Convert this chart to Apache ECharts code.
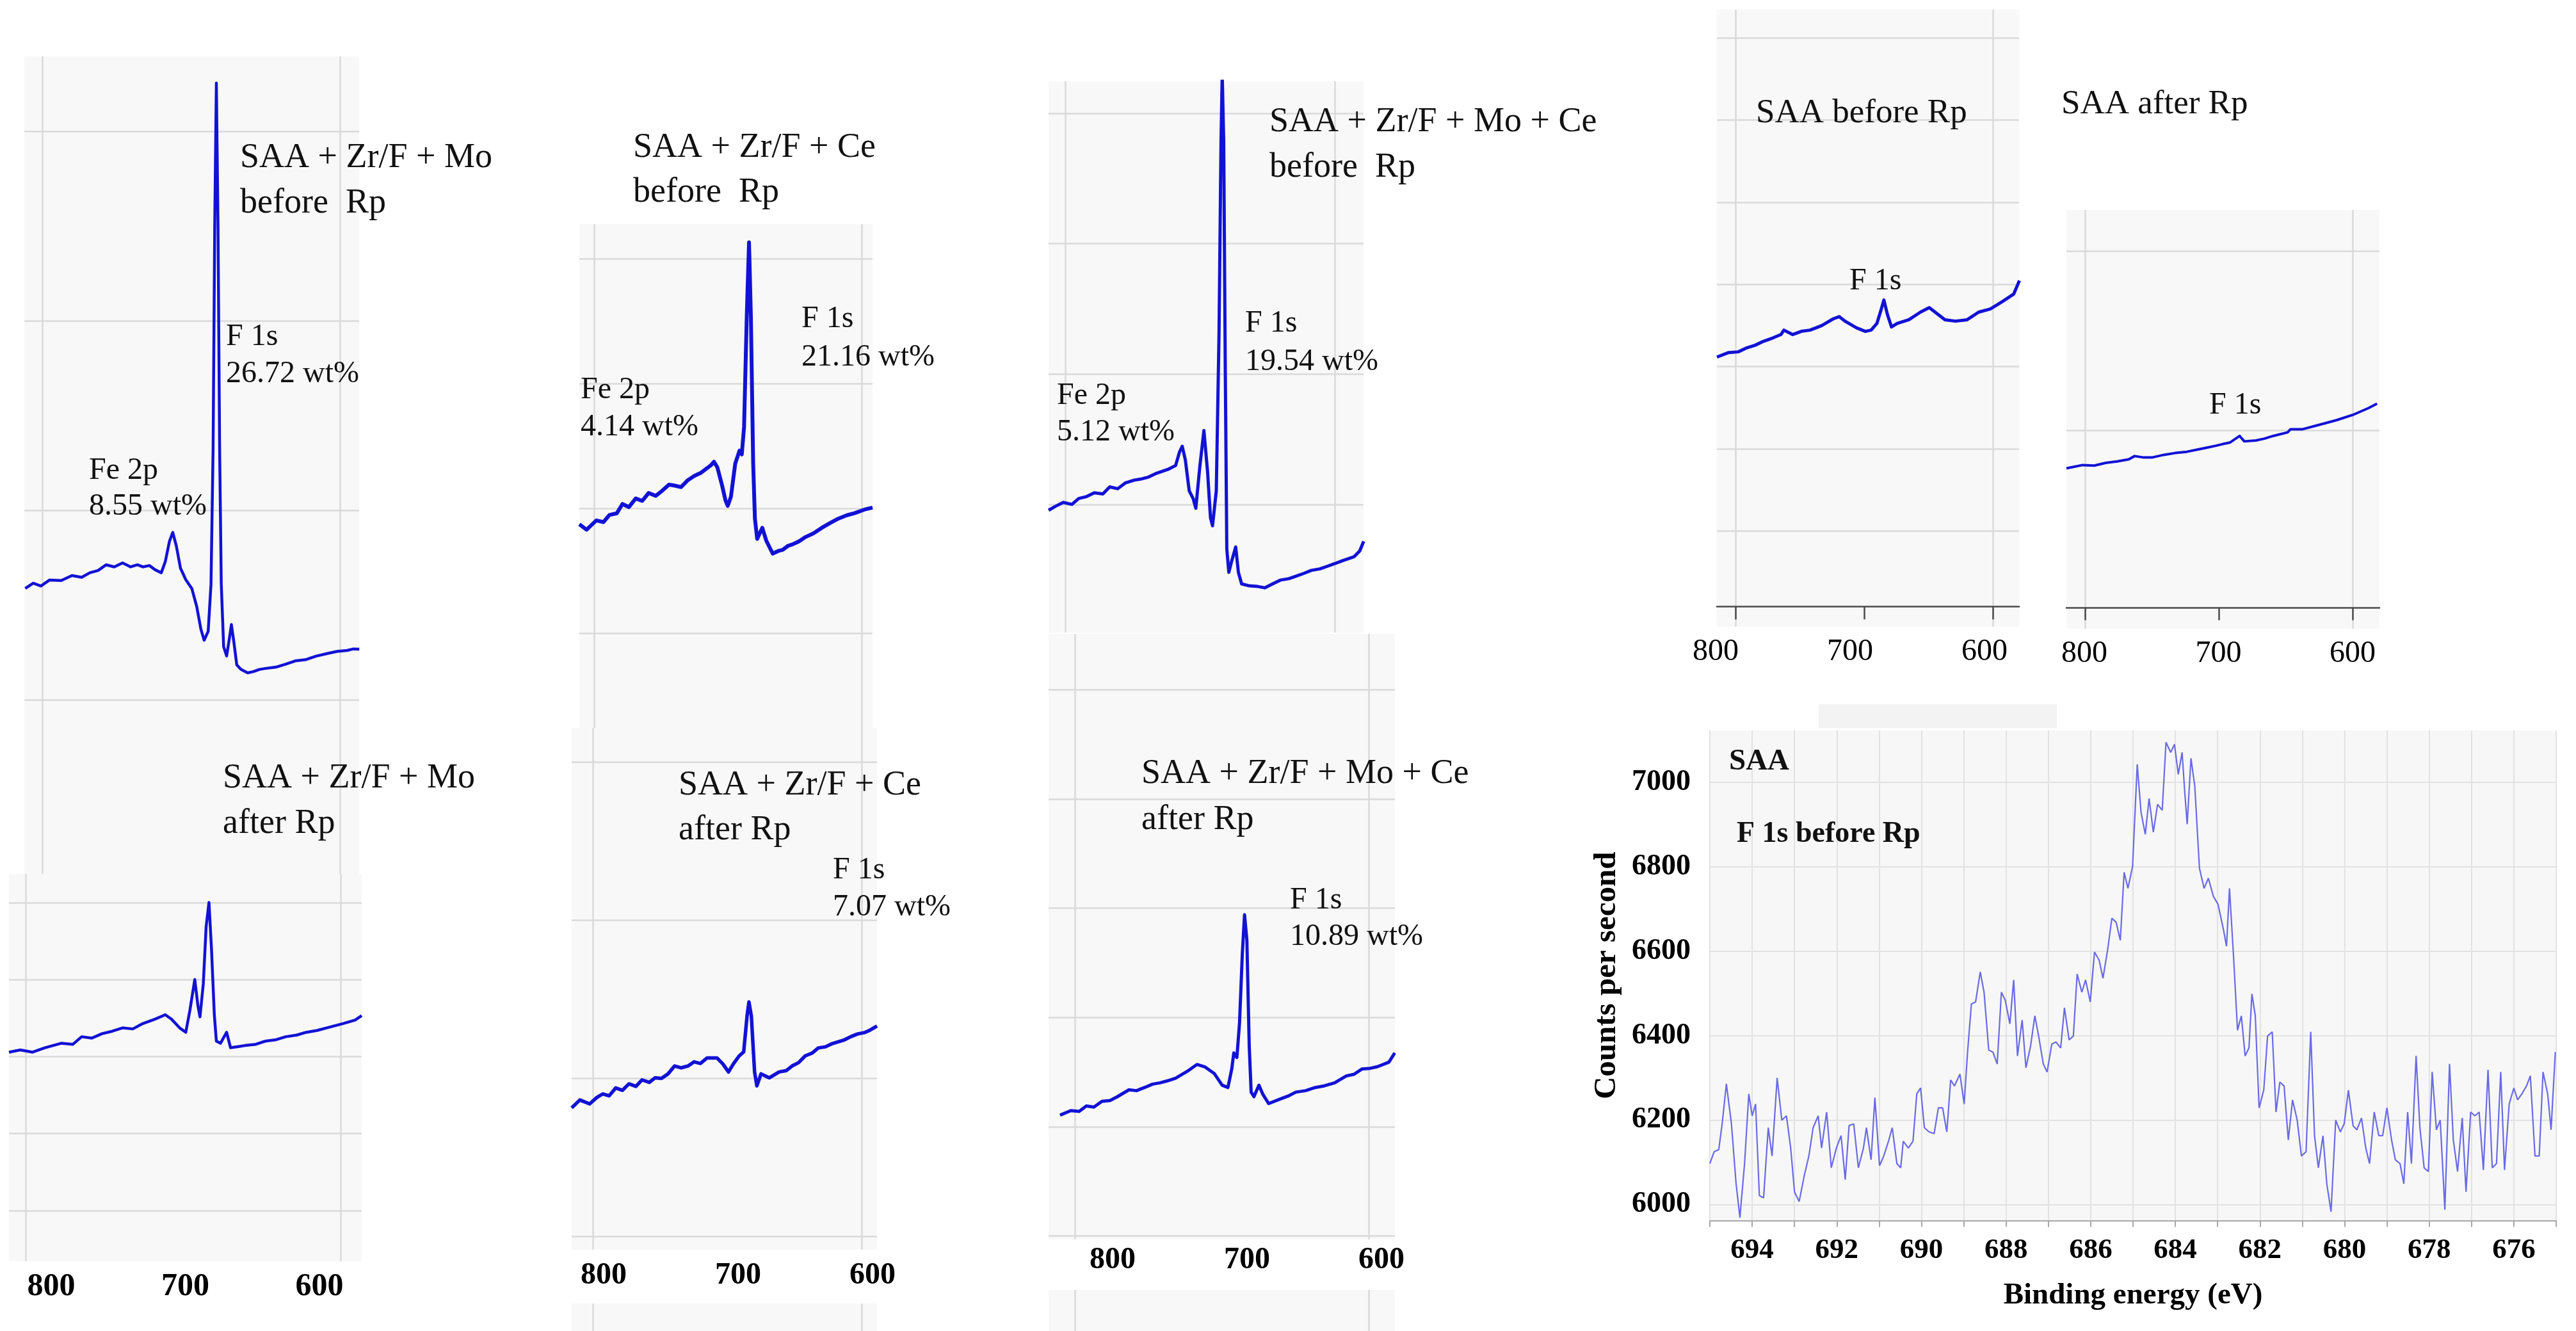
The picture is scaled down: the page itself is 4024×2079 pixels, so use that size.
<!DOCTYPE html>
<html>
<head>
<meta charset="utf-8">
<script src="https://cdn.jsdelivr.net/npm/echarts@6.0.0/dist/echarts.min.js"></script>
<style>
  html, body { margin: 0; padding: 0; background: #fff; }
  #chart { width: 4024px; height: 2079px; }
</style>
</head>
<body>
<div id="chart"></div>
<script>
// ---- survey spectra (binding energy in eV, intensity in gridline units) ----
const moBeforeE = [811.4, 806, 800.9, 795, 787.2, 780, 773.5, 768, 762.5, 757, 751.6, 746, 740.6, 736, 732.4, 728, 724.2, 720.0, 717.3, 714.5, 712.3, 709.9, 707.1, 703.6, 699.5, 696.2, 693.4, 691.2, 688.5, 686.6, 685.2, 684.1, 683.0, 681.9, 680.8, 679.7, 678.1, 676.1, 674.2, 672.9, 671.2, 669.3, 666.5, 662, 658.3, 654, 650.1, 643, 636.4, 630, 622.7, 616, 608.9, 602, 595.2, 591, 587.0];
const moBeforeV = [1.587, 1.615, 1.600, 1.632, 1.629, 1.655, 1.646, 1.670, 1.682, 1.712, 1.701, 1.722, 1.701, 1.712, 1.701, 1.708, 1.686, 1.670, 1.729, 1.836, 1.883, 1.812, 1.694, 1.634, 1.587, 1.492, 1.373, 1.314, 1.361, 1.610, 2.322, 3.507, 4.254, 3.507, 2.322, 1.610, 1.279, 1.231, 1.326, 1.397, 1.302, 1.184, 1.160, 1.142, 1.148, 1.160, 1.165, 1.172, 1.188, 1.205, 1.212, 1.230, 1.243, 1.255, 1.260, 1.268, 1.267];

const moAfterE = [810.6, 803.4, 795.6, 787.8, 777.5, 770, 764.5, 758, 751.6, 745, 738.6, 732, 725.7, 717.9, 711.4, 707.5, 702.3, 698.4, 695.8, 692.7, 690.7, 689.4, 687.3, 685.5, 683.7, 682.1, 680.3, 679.0, 676.4, 672.5, 670.0, 665, 660.9, 654, 647.9, 641, 635.0, 628, 622.0, 615, 609.1, 598.7, 591.0, 586.8];
const moAfterV = [2.058, 2.086, 2.058, 2.115, 2.173, 2.160, 2.258, 2.240, 2.298, 2.330, 2.373, 2.360, 2.429, 2.487, 2.544, 2.487, 2.373, 2.316, 2.601, 3.002, 2.659, 2.516, 2.944, 3.687, 4.002, 3.401, 2.544, 2.201, 2.173, 2.316, 2.115, 2.130, 2.144, 2.160, 2.201, 2.220, 2.258, 2.280, 2.316, 2.340, 2.373, 2.429, 2.475, 2.532];

const ceBeforeE = [811.0, 805.6, 798.3, 793, 788.5, 783, 778.8, 774, 768.9, 764, 759.2, 754, 749.4, 744, 739.7, 735, 729.9, 725, 720.1, 712.8, 710.4, 707.9, 704.3, 701.8, 700.1, 697.7, 694.5, 691.3, 689.6, 687.9, 685.9, 684.2, 682.8, 681.1, 679.8, 678.1, 676.2, 674.3, 671.3, 666.5, 662, 659.1, 655, 651.8, 647, 642.0, 636, 629.8, 624, 617.6, 611, 605.4, 598, 591.9];
const ceBeforeV = [1.873, 1.829, 1.903, 1.890, 1.947, 1.960, 2.035, 2.010, 2.079, 2.060, 2.123, 2.100, 2.138, 2.190, 2.182, 2.170, 2.226, 2.260, 2.285, 2.344, 2.373, 2.329, 2.182, 2.064, 2.020, 2.094, 2.359, 2.462, 2.432, 2.653, 3.536, 4.131, 3.536, 2.359, 1.917, 1.755, 1.800, 1.844, 1.741, 1.637, 1.660, 1.667, 1.700, 1.711, 1.735, 1.770, 1.800, 1.844, 1.880, 1.917, 1.945, 1.961, 1.990, 2.006];

const ceAfterE = [815.8, 809.7, 802.4, 797, 792.7, 788, 783.0, 778, 773.2, 768, 763.5, 758, 753.8, 749, 744.1, 739.2, 734.4, 729, 724.7, 720, 715.0, 707.7, 703.3, 699.1, 695.5, 691.1, 687.8, 685.3, 683.9, 682.1, 679.7, 678.0, 674.9, 668.8, 661.5, 656, 651.8, 647, 642.0, 637, 632.3, 627, 622.6, 618, 612.9, 608, 603.2, 598, 593.5, 588.6];
const ceAfterV = [0.814, 0.864, 0.839, 0.880, 0.902, 0.890, 0.940, 0.925, 0.966, 0.950, 0.991, 0.975, 1.004, 1.000, 1.029, 1.079, 1.067, 1.080, 1.105, 1.095, 1.130, 1.130, 1.092, 1.041, 1.092, 1.143, 1.168, 1.395, 1.484, 1.395, 1.041, 0.953, 1.029, 1.004, 1.041, 1.050, 1.079, 1.100, 1.143, 1.160, 1.193, 1.200, 1.218, 1.230, 1.244, 1.265, 1.281, 1.290, 1.307, 1.332];

const moCeBeforeE = [812.3, 807.2, 801.4, 795, 789.9, 784, 778.4, 772, 766.9, 761, 755.4, 749, 743.9, 738, 732.3, 723.7, 718.0, 715.1, 713.1, 710.8, 707.9, 705.0, 703.0, 700.1, 697.0, 694.3, 692.1, 690.6, 687.8, 685.8, 684.3, 683.4, 682.3, 681.1, 680.0, 678.5, 676.3, 673.4, 671.4, 669.0, 663.3, 657, 651.8, 646, 640.3, 634, 628.8, 623, 617.2, 611, 605.7, 600, 594.2, 585.6, 581.3, 578.4];
const moCeBeforeV = [0.955, 0.985, 1.015, 1.000, 1.045, 1.060, 1.089, 1.080, 1.134, 1.120, 1.164, 1.185, 1.194, 1.210, 1.238, 1.268, 1.298, 1.402, 1.446, 1.342, 1.104, 1.045, 0.970, 1.283, 1.566, 1.253, 0.896, 0.836, 1.104, 2.295, 3.783, 4.300, 3.783, 1.998, 0.658, 0.479, 0.568, 0.673, 0.479, 0.390, 0.375, 0.370, 0.360, 0.390, 0.419, 0.430, 0.449, 0.470, 0.494, 0.505, 0.524, 0.545, 0.568, 0.598, 0.643, 0.717];

const moCeAfterE = [810.0, 802.7, 797, 792.1, 787, 781.5, 776, 771.0, 763.1, 758, 752.5, 747, 742.0, 737, 731.4, 723.5, 716.9, 711.6, 705.0, 699.7, 695.8, 693.2, 691.8, 689.7, 687.9, 686.0, 684.5, 682.9, 681.3, 680.0, 678.1, 674.7, 672.0, 668.1, 660.2, 655, 649.6, 643, 636.4, 630, 623.2, 615.3, 610, 604.7, 599, 594.2, 586.3, 582.3];
const moCeAfterV = [1.106, 1.148, 1.140, 1.190, 1.180, 1.233, 1.240, 1.275, 1.338, 1.330, 1.359, 1.390, 1.402, 1.420, 1.444, 1.507, 1.570, 1.549, 1.486, 1.380, 1.359, 1.528, 1.676, 1.634, 1.950, 2.583, 2.941, 2.709, 1.739, 1.317, 1.275, 1.380, 1.296, 1.212, 1.254, 1.280, 1.317, 1.330, 1.359, 1.375, 1.402, 1.465, 1.480, 1.528, 1.535, 1.549, 1.591, 1.676];

const saaBeforeE = [814.5, 805.4, 798, 791.8, 785, 778.3, 771, 764.8, 762.5, 755.8, 749, 742.2, 733.2, 724.2, 719.6, 715.1, 706.1, 699.3, 694.8, 690.3, 687.1, 684.9, 682.2, 679.0, 674.5, 665.5, 656.5, 649.7, 645.2, 637.5, 629.4, 620.3, 611.3, 602.3, 593.2, 584.2, 579.7];
const saaBeforeV = [3.117, 3.172, 3.180, 3.226, 3.260, 3.309, 3.350, 3.391, 3.445, 3.391, 3.430, 3.445, 3.500, 3.582, 3.609, 3.554, 3.472, 3.429, 3.445, 3.527, 3.691, 3.811, 3.637, 3.483, 3.527, 3.571, 3.664, 3.719, 3.664, 3.571, 3.554, 3.571, 3.664, 3.702, 3.790, 3.883, 4.047];

const saaAfterE = [813.8, 801.7, 793, 784.5, 776, 767.3, 762.9, 756, 750.0, 741, 732.7, 724, 715.5, 709, 702.6, 697, 691.8, 684.5, 681.0, 672.4, 666, 659.5, 648.7, 646.6, 637.9, 625.0, 612.1, 599.1, 588.4, 581.9];
const saaAfterV = [0.790, 0.808, 0.805, 0.820, 0.828, 0.840, 0.858, 0.850, 0.850, 0.865, 0.875, 0.882, 0.895, 0.905, 0.915, 0.925, 0.933, 0.970, 0.940, 0.945, 0.955, 0.970, 0.990, 1.007, 1.007, 1.032, 1.058, 1.090, 1.125, 1.150];

// ---- high resolution F 1s spectrum of SAA ----
const f1sEnergy = [
  695.00, 694.90, 694.79, 694.71, 694.61, 694.49, 694.38, 694.29, 694.18, 694.08,
  694.00, 693.92, 693.83, 693.73, 693.62, 693.53, 693.41, 693.30, 693.19, 693.09,
  693.00, 692.89, 692.77, 692.66, 692.56, 692.44, 692.36, 692.24, 692.13, 692.01,
  691.90, 691.80, 691.71, 691.60, 691.49, 691.37, 691.30, 691.19, 691.10, 690.99,
  690.89, 690.77, 690.69, 690.58, 690.49, 690.43, 690.31, 690.20, 690.11, 690.02,
  689.93, 689.82, 689.70, 689.60, 689.50, 689.40, 689.31, 689.22, 689.09, 688.99,
  688.91, 688.82, 688.72, 688.61, 688.52, 688.41, 688.31, 688.21, 688.11, 688.02,
  687.91, 687.82, 687.73, 687.62, 687.53, 687.42, 687.32, 687.23, 687.12, 687.03,
  686.92, 686.82, 686.71, 686.62, 686.51, 686.41, 686.32, 686.21, 686.12, 686.01,
  685.91, 685.80, 685.71, 685.60, 685.50, 685.40, 685.30, 685.21, 685.12, 685.01,
  684.90, 684.81, 684.71, 684.62, 684.52, 684.42, 684.31, 684.22, 684.11, 684.02,
  683.93, 683.84, 683.78, 683.72, 683.63, 683.54, 683.43, 683.32, 683.22, 683.10,
  682.99, 682.87, 682.79, 682.72, 682.63, 682.53, 682.44, 682.35, 682.26, 682.19,
  682.11, 682.02, 681.91, 681.82, 681.71, 681.62, 681.53, 681.43, 681.33, 681.23,
  681.12, 681.02, 680.91, 680.80, 680.71, 680.62, 680.51, 680.42, 680.32, 680.21,
  680.10, 680.01, 679.91, 679.80, 679.71, 679.60, 679.50, 679.41, 679.30, 679.19,
  679.10, 679.00, 678.89, 678.80, 678.69, 678.60, 678.51, 678.42, 678.31, 678.22,
  678.12, 678.02, 677.93, 677.83, 677.74, 677.63, 677.52, 677.43, 677.33, 677.22,
  677.13, 677.02, 676.92, 676.82, 676.72, 676.61, 676.51, 676.41, 676.31, 676.22,
  676.11, 676.00, 675.91, 675.81, 675.70, 675.61, 675.50, 675.40, 675.31, 675.20,
  675.12, 675.02
];
const f1sCounts = [
  6097, 6125, 6130, 6191, 6286, 6191, 6049, 5969, 6097, 6262,
  6210, 6238, 6021, 6016, 6182, 6115, 6300, 6200, 6210, 6134,
  6030, 6007, 6068, 6115, 6182, 6210, 6134, 6219, 6087, 6134,
  6163, 6059, 6187, 6191, 6087, 6134, 6182, 6106, 6253, 6092,
  6115, 6153, 6182, 6097, 6087, 6150, 6134, 6150, 6262, 6276,
  6182, 6172, 6168, 6229, 6229, 6172, 6295, 6281, 6309, 6238,
  6361, 6475, 6480, 6551, 6503, 6366, 6361, 6333, 6503, 6484,
  6428, 6532, 6352, 6437, 6324, 6376, 6447, 6399, 6333, 6314,
  6380, 6385, 6371, 6466, 6390, 6399, 6546, 6503, 6532, 6480,
  6598, 6579, 6536, 6603, 6678, 6669, 6626, 6787, 6749, 6801,
  7043, 6929, 6877, 6962, 6882, 6948, 6934, 7095, 7071, 7090,
  7019, 7071, 6981, 6901, 7057, 6991, 6797, 6749, 6773, 6730,
  6711, 6655, 6612, 6749, 6598, 6413, 6447, 6352, 6371, 6499,
  6447, 6229, 6271, 6399, 6409, 6219, 6290, 6281, 6153, 6248,
  6200, 6115, 6125, 6409, 6163, 6087, 6163, 6049, 5983, 6200,
  6172, 6191, 6271, 6187, 6177, 6205, 6134, 6097, 6219, 6163,
  6163, 6229, 6153, 6106, 6097, 6049, 6219, 6097, 6352, 6182,
  6087, 6078, 6314, 6177, 6200, 5988, 6333, 6153, 6078, 6205,
  6030, 6219, 6210, 6219, 6082, 6319, 6087, 6097, 6314, 6082,
  6238, 6276, 6248, 6262, 6281, 6305, 6115, 6115, 6314, 6262,
  6177, 6361
];

// ---- ticks ----
const surveyTickLabels = [600, 700, 800];
const surveyGridE = [600, 800];
const f1sCountTicks = [6000, 6200, 6400, 6600, 6800, 7000];

const SERIF = "'Liberation Serif', 'DejaVu Serif', serif";
const PANEL_BG = '#f8f8f8';
const GRID_COLOR = '#dadada';
const SURVEY_BLUE = '#1212d4';

const grids = [], xAxes = [], yAxes = [], series = [];
const zip = (a, b) => a.map((v, i) => [v, b[i]]);

function addGrid(b, bg) {
  grids.push({
    left: b.left, top: b.top, width: b.right - b.left, height: b.bottom - b.top,
    show: !!bg, backgroundColor: bg || 'transparent', borderWidth: 0,
    containLabel: false, outerBoundsMode: 'none'
  });
  return grids.length - 1;
}

// one grey survey window with its blue trace (noisy trace -> thicker band)
function surveyPanel(p) {
  const g = addGrid(p.box, PANEL_BG);
  const xi = xAxes.length;
  xAxes.push({
    gridIndex: g, type: 'value', inverse: true, min: p.eRight, max: p.eLeft,
    axisLine: { show: false, onZero: false },
    axisTick: { show: false, customValues: surveyGridE },
    axisLabel: { show: false },
    splitLine: { show: true, lineStyle: { color: GRID_COLOR, width: 2.5 } }
  });
  if (p.axisOffset != null) {
    // axis line with ticks at 800/700/600 (SAA windows)
    xAxes.push({
      gridIndex: g, type: 'value', inverse: true, min: p.eRight, max: p.eLeft,
      position: 'bottom', offset: p.axisOffset,
      axisLine: { show: true, onZero: false, lineStyle: { color: '#4a4a4a', width: 2.5 } },
      axisTick: { show: true, customValues: surveyTickLabels, length: 20, lineStyle: { color: '#4a4a4a', width: 2.5 } },
      axisLabel: { show: false },
      splitLine: { show: false }
    });
  }
  const yi = yAxes.length;
  yAxes.push({
    gridIndex: g, type: 'value', min: p.vMin, max: p.vMax,
    axisLine: { show: false }, axisLabel: { show: false },
    axisTick: { show: false, customValues: p.vGrid },
    splitLine: { show: p.vGrid.length > 0, lineStyle: { color: GRID_COLOR, width: 2.5 } }
  });
  if (p.e) {
    series.push({
      type: 'line', xAxisIndex: xi, yAxisIndex: yi, data: zip(p.e, p.v),
      showSymbol: false, symbol: 'none', silent: true, animation: false,
      lineStyle: { color: SURVEY_BLUE, width: p.lw || 4, join: 'round' }
    });
  }
}

// row of 800 / 700 / 600 under a window (pasted separately in the figure)
function labelStrip(s) {
  const b = s.cy - s.size / 2;
  const g = addGrid({ left: s.x800, right: s.x600, top: b - 1, bottom: b });
  xAxes.push({
    gridIndex: g, type: 'value', inverse: true, min: 600, max: 800, interval: 100,
    axisLine: { show: false, onZero: false }, axisTick: { show: false }, splitLine: { show: false },
    axisLabel: { show: true, margin: 0, fontFamily: SERIF, fontSize: s.size, fontWeight: s.weight, color: '#000', showMinLabel: true, showMaxLabel: true }
  });
  yAxes.push({ gridIndex: g, type: 'value', show: false, splitLine: { show: false } });
}

// SAA + Zr/F + Mo
surveyPanel({ box: { left: 38, top: 88, right: 561, bottom: 1365 }, eLeft: 812.0, eRight: 587.1, vMin: 0.081, vMax: 4.395, vGrid: [1, 2, 3, 4], e: moBeforeE, v: moBeforeV, lw: 4.5 });
surveyPanel({ box: { left: 14, top: 1365, right: 565, bottom: 1970 }, eLeft: 810.6, eRight: 586.8, vMin: -0.657, vMax: 4.373, vGrid: [0, 1, 2, 3, 4], e: moAfterE, v: moAfterV, lw: 4.5 });
labelStrip({ x800: 80, x600: 499, cy: 2010, size: 50, weight: 'bold' });

// SAA + Zr/F + Ce
surveyPanel({ box: { left: 905, top: 350, right: 1363, bottom: 1137 }, eLeft: 811.0, eRight: 591.9, vMin: 0.241, vMax: 4.277, vGrid: [1, 2, 3, 4], e: ceBeforeE, v: ceBeforeV, lw: 6 });
surveyPanel({ box: { left: 893, top: 1137, right: 1370, bottom: 1952 }, eLeft: 815.8, eRight: 588.6, vMin: -0.083, vMax: 3.217, vGrid: [0, 1, 2, 3], e: ceAfterE, v: ceAfterV, lw: 5.5 });
surveyPanel({ box: { left: 893, top: 2036, right: 1370, bottom: 2079 }, eLeft: 815.8, eRight: 588.6, vMin: 0, vMax: 1, vGrid: [] });
labelStrip({ x800: 943, x600: 1363, cy: 1993, size: 48, weight: 'bold' });

// SAA + Zr/F + Mo + Ce
surveyPanel({ box: { left: 1638, top: 127, right: 2130, bottom: 988 }, eLeft: 812.3, eRight: 578.5, vMin: 0.017, vMax: 4.245, vGrid: [1, 2, 3, 4], e: moCeBeforeE, v: moCeBeforeV, lw: 5 });
surveyPanel({ box: { left: 1638, top: 990, right: 2179, bottom: 1936 }, eLeft: 817.8, eRight: 582.2, vMin: -0.032, vMax: 5.513, vGrid: [0, 1, 2, 3, 4, 5], e: moCeAfterE, v: moCeAfterV, lw: 5 });
surveyPanel({ box: { left: 1638, top: 2015, right: 2179, bottom: 2079 }, eLeft: 817.8, eRight: 582.2, vMin: 0, vMax: 1, vGrid: [] });
labelStrip({ x800: 1738, x600: 2158, cy: 1969, size: 48, weight: 'bold' });

// SAA before / after
surveyPanel({ box: { left: 2682, top: 15, right: 3154, bottom: 979 }, eLeft: 814.5, eRight: 580.0, vMin: -0.165, vMax: 7.345, vGrid: [1, 2, 3, 4, 5, 6, 7], e: saaBeforeE, v: saaBeforeV, axisOffset: -31.6, lw: 5 });
labelStrip({ x800: 2680, x600: 3100, cy: 1018, size: 48, weight: 'normal' });
surveyPanel({ box: { left: 3228, top: 328, right: 3717, bottom: 982 }, eLeft: 813.8, eRight: 580.1, vMin: -0.103, vMax: 2.228, vGrid: [1, 2], e: saaAfterE, v: saaAfterV, axisOffset: -33.2, lw: 4 });
labelStrip({ x800: 3256, x600: 3675, cy: 1021, size: 48, weight: 'normal' });

// high resolution F 1s window
const f1sGrid = addGrid({ left: 2671, top: 1141, right: 3993, bottom: 1906.5 }, '#f7f7f7');
const f1sX = xAxes.length;
xAxes.push({
  gridIndex: f1sGrid, type: 'value', inverse: true, min: 675, max: 695, interval: 1,
  name: 'Binding energy (eV)', nameLocation: 'middle', nameGap: 94,
  nameTextStyle: { fontFamily: SERIF, fontSize: 47, fontWeight: 'bold', color: '#000' },
  axisLine: { show: true, onZero: false, lineStyle: { color: '#a8a8a8', width: 2 } },
  axisTick: { show: true, length: 10, lineStyle: { color: '#a8a8a8', width: 2 } },
  axisLabel: {
    show: true, margin: 24, fontFamily: SERIF, fontSize: 45, fontWeight: 'bold', color: '#000',
    formatter: v => (Math.round(v) % 2 === 0 ? String(Math.round(v)) : '')
  },
  splitLine: { show: true, lineStyle: { color: '#e2e2e2', width: 2 } }
});
const f1sY = yAxes.length;
yAxes.push({
  gridIndex: f1sGrid, type: 'value', min: 5962, max: 7123,
  name: 'Counts per second', nameLocation: 'middle', nameGap: 136, nameRotate: 90,
  nameTextStyle: { fontFamily: SERIF, fontSize: 49, fontWeight: 'bold', color: '#000' },
  axisLine: { show: false },
  axisTick: { show: false, customValues: f1sCountTicks },
  axisLabel: {
    show: true, margin: 30, customValues: f1sCountTicks, fontFamily: SERIF, fontSize: 46, fontWeight: 'bold', color: '#000',
    formatter: v => String(Math.round(v))
  },
  splitLine: { show: true, lineStyle: { color: '#e2e2e2', width: 2 } }
});
series.push({
  type: 'line', xAxisIndex: f1sX, yAxisIndex: f1sY, data: zip(f1sEnergy, f1sCounts),
  showSymbol: false, symbol: 'none', silent: true, animation: false,
  lineStyle: { color: '#6a6ae6', width: 2.2 }
});

// annotations: [text, left x, baseline y, size, bold]
const notes = [
  ['SAA + Zr/F + Mo', 375, 265, 54], ['before  Rp', 375, 336, 54],
  ['F 1s', 353, 542, 48], ['26.72 wt%', 353, 600, 48],
  ['Fe 2p', 139, 751, 48], ['8.55 wt%', 139, 807, 48],
  ['SAA + Zr/F + Mo', 348, 1234, 54], ['after Rp', 348, 1305, 54],
  ['SAA + Zr/F + Ce', 989, 249, 54], ['before  Rp', 989, 319, 54],
  ['F 1s', 1252, 514, 48], ['21.16 wt%', 1252, 574, 48],
  ['Fe 2p', 907, 625, 48], ['4.14 wt%', 907, 683, 48],
  ['SAA + Zr/F + Ce', 1060, 1245, 54], ['after Rp', 1060, 1315, 54],
  ['F 1s', 1301, 1375, 48], ['7.07 wt%', 1301, 1433, 48],
  ['SAA + Zr/F + Mo + Ce', 1983, 209, 54], ['before  Rp', 1983, 280, 54],
  ['F 1s', 1945, 521, 48], ['19.54 wt%', 1945, 581, 48],
  ['Fe 2p', 1651, 634, 48], ['5.12 wt%', 1651, 691, 48],
  ['SAA + Zr/F + Mo + Ce', 1783, 1227, 54], ['after Rp', 1783, 1299, 54],
  ['F 1s', 2015, 1422, 48], ['10.89 wt%', 2015, 1479, 48],
  ['SAA before Rp', 2743, 195, 53], ['F 1s', 2889, 455, 48],
  ['SAA after Rp', 3220, 181, 53], ['F 1s', 3451, 649, 48],
  ['SAA', 2701, 1205, 47, true], ['F 1s before Rp', 2713, 1318, 46, true]
];

const graphic = [
  { type: 'rect', shape: { x: 2841, y: 1100, width: 372, height: 37 }, style: { fill: '#f3f3f3' }, z: -1, silent: true }
].concat(notes.map(([t, x, yb, fs, bold]) => ({
  type: 'text', x: x, y: yb - 0.33 * fs, z: 100, silent: true,
  style: { text: t, fontFamily: SERIF, fontSize: fs, fontWeight: bold ? 'bold' : 'normal', fill: '#111', align: 'left', verticalAlign: 'middle' }
})));

const chart = echarts.init(document.getElementById('chart'));
chart.setOption({
  animation: false,
  backgroundColor: '#ffffff',
  grid: grids,
  xAxis: xAxes,
  yAxis: yAxes,
  series: series,
  graphic: graphic
});
window.addEventListener('resize', () => chart.resize());
</script>
</body>
</html>
